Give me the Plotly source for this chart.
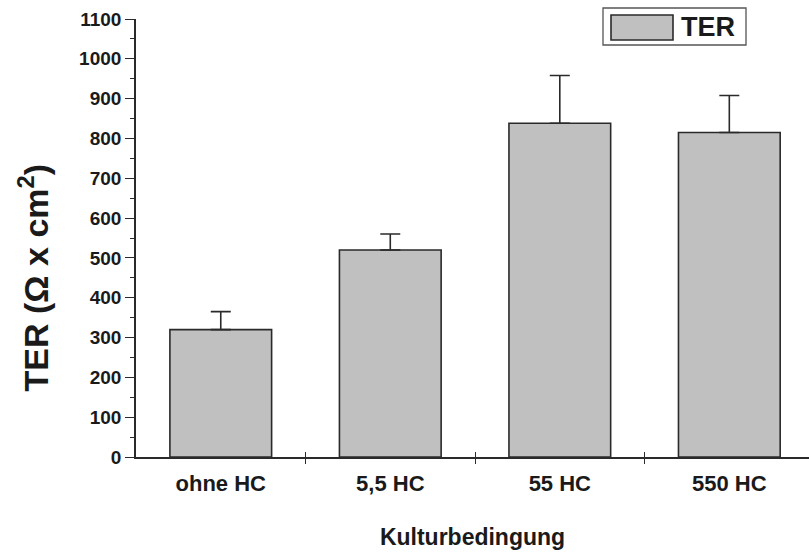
import plotly.graph_objects as go

# TER measurements per culture condition
categories = ["ohne HC", "5,5 HC", "55 HC", "550 HC"]
ter_mean = [320, 520, 838, 815]
ter_err = [45, 40, 120, 93]
series_name = "TER"
y_ticks = [0, 100, 200, 300, 400, 500, 600, 700, 800, 900, 1000, 1100]

positions = list(range(1, len(categories) + 1))
boundaries = [p + 0.5 for p in positions[:-1]]

FONT = "Liberation Sans, Arial, sans-serif"
INK = "#1a1a1a"
BAR_FILL = "#c0c0c0"

fig = go.Figure()
fig.add_trace(go.Bar(
    x=positions,
    y=ter_mean,
    name=series_name,
    width=0.6,
    marker=dict(color=BAR_FILL, line=dict(color="#2a2a2a", width=1.6)),
    error_y=dict(type="data", array=ter_err, arrayminus=[0] * len(ter_err),
                 symmetric=False, color="#2a2a2a", thickness=1.6, width=10),
    showlegend=False,
))

fig.update_layout(
    width=809, height=555,
    margin=dict(l=136, r=0, t=19, b=98),
    paper_bgcolor="white", plot_bgcolor="white",
    font=dict(family=FONT, color=INK),
    xaxis=dict(
        range=[0.5, 4.47],
        tickmode="array", tickvals=positions, ticktext=categories,
        ticks="", showgrid=False, zeroline=False,
        showline=True, linecolor="#2a2a2a", linewidth=1.6,
        tickfont=dict(size=22, family=FONT, color=INK, weight="bold"),
        ticklabelstandoff=6,
        minor=dict(tickmode="array", tickvals=boundaries, ticks="outside",
                   ticklen=5, tickwidth=1.4, tickcolor="#2a2a2a"),
        title=dict(text="<b>Kulturbedingung</b>", standoff=34,
                   font=dict(size=23, family=FONT, color=INK)),
    ),
    xaxis2=dict(
        overlaying="x", matches="x", range=[0.5, 4.47],
        tickmode="array", tickvals=boundaries, ticks="inside",
        ticklen=5, tickwidth=1.4, tickcolor="#2a2a2a",
        showticklabels=False, showgrid=False, zeroline=False, showline=False,
        side="bottom",
    ),
    yaxis=dict(
        range=[0, 1100],
        tickmode="array", tickvals=y_ticks,
        ticks="outside", ticklen=9, tickwidth=1.4, tickcolor="#2a2a2a",
        showgrid=False, zeroline=False,
        showline=True, linecolor="#2a2a2a", linewidth=1.6,
        tickfont=dict(size=19, family=FONT, color=INK, weight="bold"),
        minor=dict(dtick=50, ticks="outside", ticklen=4.5, tickwidth=1.2,
                   tickcolor="#2a2a2a"),
    ),
)

# invisible point so the overlay axis with boundary ticks is rendered
fig.add_trace(go.Scatter(x=[positions[0]], y=[0], xaxis="x2", mode="markers",
                         marker=dict(opacity=0), showlegend=False,
                         hoverinfo="skip"))

# y-axis title
fig.add_annotation(
    text="<b>TER (Ω x cm<sup>2</sup>)</b>",
    xref="paper", yref="paper", x=-0.153, y=0.41,
    xanchor="center", yanchor="middle", textangle=-90, showarrow=False,
    font=dict(size=34, family=FONT, color=INK),
)

# legend box with swatch
fig.add_shape(type="rect", xref="paper", yref="paper",
              x0=(603 - 136) / 673, x1=(746 - 136) / 673,
              y0=(457 - 45) / 438, y1=(457 - 8) / 438,
              line=dict(color="#555555", width=1.3), fillcolor="white")
fig.add_shape(type="rect", xref="paper", yref="paper",
              x0=(611 - 136) / 673, x1=(673 - 136) / 673,
              y0=(457 - 40) / 438, y1=(457 - 15) / 438,
              line=dict(color="#2a2a2a", width=1.6), fillcolor=BAR_FILL)
fig.add_annotation(
    text="<b>" + series_name + "</b>",
    xref="paper", yref="paper", x=(679 - 136) / 673, y=(457 - 27) / 438,
    xanchor="left", yanchor="middle", showarrow=False,
    font=dict(size=27, family=FONT, color=INK),
)

fig.write_html("out.html")
